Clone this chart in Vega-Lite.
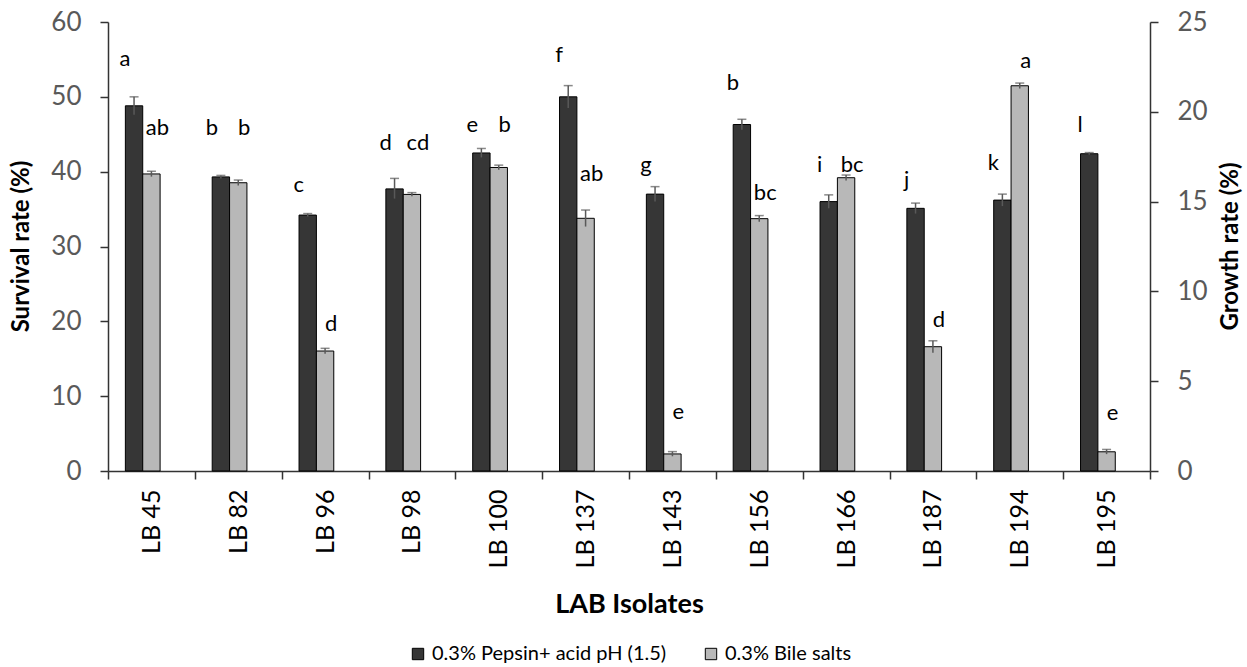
{
  "$schema": "https://vega.github.io/schema/vega-lite/v6.json",
  "width": 1042,
  "height": 449,
  "autosize": {"type": "none"},
  "padding": {"left": 108, "top": 22, "right": 97, "bottom": 196},
  "background": "white",
  "config": {
    "font": "Lato",
    "view": {"stroke": null},
    "axis": {"grid": false}
  },
  "data": {
    "values": [
      {"isolate": "LB 45", "series": "0.3% Pepsin+ acid pH (1.5)", "value": 48.8, "lo": 47.6, "hi": 50.0, "letter": "a", "label_y": 55.1},
      {"isolate": "LB 82", "series": "0.3% Pepsin+ acid pH (1.5)", "value": 39.3, "lo": 39.1, "hi": 39.5, "letter": "b", "label_y": 45.8},
      {"isolate": "LB 96", "series": "0.3% Pepsin+ acid pH (1.5)", "value": 34.2, "lo": 34.0, "hi": 34.4, "letter": "c", "label_y": 38.2},
      {"isolate": "LB 98", "series": "0.3% Pepsin+ acid pH (1.5)", "value": 37.7, "lo": 36.4, "hi": 39.1, "letter": "d", "label_y": 43.8},
      {"isolate": "LB 100", "series": "0.3% Pepsin+ acid pH (1.5)", "value": 42.5, "lo": 41.9, "hi": 43.1, "letter": "e", "label_y": 46.2},
      {"isolate": "LB 137", "series": "0.3% Pepsin+ acid pH (1.5)", "value": 50.0, "lo": 48.5, "hi": 51.5, "letter": "f", "label_y": 55.6},
      {"isolate": "LB 143", "series": "0.3% Pepsin+ acid pH (1.5)", "value": 37.0, "lo": 36.0, "hi": 38.0, "letter": "g", "label_y": 40.9},
      {"isolate": "LB 156", "series": "0.3% Pepsin+ acid pH (1.5)", "value": 46.3, "lo": 45.6, "hi": 47.0, "letter": "b", "label_y": 51.8},
      {"isolate": "LB 166", "series": "0.3% Pepsin+ acid pH (1.5)", "value": 36.0, "lo": 35.1, "hi": 36.9, "letter": "i", "label_y": 40.9},
      {"isolate": "LB 187", "series": "0.3% Pepsin+ acid pH (1.5)", "value": 35.1, "lo": 34.4, "hi": 35.8, "letter": "j", "label_y": 38.9},
      {"isolate": "LB 194", "series": "0.3% Pepsin+ acid pH (1.5)", "value": 36.2, "lo": 35.4, "hi": 37.0, "letter": "k", "label_y": 41.2},
      {"isolate": "LB 195", "series": "0.3% Pepsin+ acid pH (1.5)", "value": 42.4, "lo": 42.25, "hi": 42.55, "letter": "l", "label_y": 46.2},
      {"isolate": "LB 45", "series": "0.3% Bile salts", "value": 16.54, "lo": 16.39, "hi": 16.69, "letter": "ab", "label_y": 19.08},
      {"isolate": "LB 82", "series": "0.3% Bile salts", "value": 16.05, "lo": 15.9, "hi": 16.2, "letter": "b", "label_y": 19.08},
      {"isolate": "LB 96", "series": "0.3% Bile salts", "value": 6.68, "lo": 6.53, "hi": 6.83, "letter": "d", "label_y": 8.2},
      {"isolate": "LB 98", "series": "0.3% Bile salts", "value": 15.4, "lo": 15.3, "hi": 15.5, "letter": "cd", "label_y": 18.25},
      {"isolate": "LB 100", "series": "0.3% Bile salts", "value": 16.9, "lo": 16.77, "hi": 17.03, "letter": "b", "label_y": 19.25},
      {"isolate": "LB 137", "series": "0.3% Bile salts", "value": 14.07, "lo": 13.61, "hi": 14.53, "letter": "ab", "label_y": 16.54},
      {"isolate": "LB 143", "series": "0.3% Bile salts", "value": 0.95, "lo": 0.82, "hi": 1.08, "letter": "e", "label_y": 3.29},
      {"isolate": "LB 156", "series": "0.3% Bile salts", "value": 14.05, "lo": 13.88, "hi": 14.22, "letter": "bc", "label_y": 15.46},
      {"isolate": "LB 166", "series": "0.3% Bile salts", "value": 16.33, "lo": 16.18, "hi": 16.48, "letter": "bc", "label_y": 17.04},
      {"isolate": "LB 187", "series": "0.3% Bile salts", "value": 6.92, "lo": 6.59, "hi": 7.25, "letter": "d", "label_y": 8.42},
      {"isolate": "LB 194", "series": "0.3% Bile salts", "value": 21.45, "lo": 21.3, "hi": 21.6, "letter": "a", "label_y": 22.83},
      {"isolate": "LB 195", "series": "0.3% Bile salts", "value": 1.07, "lo": 0.94, "hi": 1.2, "letter": "e", "label_y": 3.25}
    ]
  },
  "encoding": {
    "x": {
      "field": "isolate",
      "type": "nominal",
      "sort": null,
      "scale": {"paddingInner": 0, "paddingOuter": 0},
      "axis": {
        "title": "LAB Isolates",
        "titleFontSize": 27,
        "titleFontWeight": "bold",
        "titleColor": "black",
        "titlePadding": 24,
        "labelAngle": 270,
        "labelFontSize": 25,
        "labelColor": "black",
        "labelPadding": 10,
        "tickBand": "extent",
        "tickSize": 8,
        "tickColor": "#333333",
        "domainColor": "#333333",
        "domainWidth": 1.5,
        "tickWidth": 1.5
      }
    },
    "xOffset": {
      "field": "series",
      "type": "nominal",
      "scale": {"domain": ["0.3% Pepsin+ acid pH (1.5)", "0.3% Bile salts", "none"], "paddingInner": 0, "paddingOuter": 1.03}
    }
  },
  "layer": [
    {
      "transform": [{"filter": "datum.series === '0.3% Pepsin+ acid pH (1.5)'"}],
      "encoding": {
        "y": {
          "field": "value",
          "type": "quantitative",
          "title": "Survival rate (%)",
          "scale": {"domain": [0, 60], "nice": false, "zero": true},
          "axis": {
            "orient": "left",
            "values": [0, 10, 20, 30, 40, 50, 60],
            "labelFontSize": 26,
            "labelColor": "#595959",
            "labelPadding": 19,
            "tickSize": 8,
            "tickColor": "#333333",
            "tickWidth": 1.5,
            "domainColor": "#333333",
            "domainWidth": 1.5,
            "titleFontSize": 24,
            "titleFontWeight": "bold",
            "titleColor": "black",
            "titleX": -87,
            "titleY": 224,
            "titleAngle": 270,
            "titleAlign": "center",
            "titleBaseline": "middle"
          }
        }
      },
      "layer": [
        {
          "mark": {"type": "bar", "stroke": "black", "strokeWidth": 1},
          "encoding": {
            "color": {
              "field": "series",
              "type": "nominal",
              "scale": {"domain": ["0.3% Pepsin+ acid pH (1.5)", "0.3% Bile salts"], "range": ["#363636", "#b8b8b8"]},
              "legend": {
                "title": null,
                "orient": "none",
                "direction": "horizontal",
                "legendX": 300,
                "legendY": 622,
                "symbolType": "square",
                "symbolSize": 130,
                "symbolStrokeColor": "black",
                "symbolStrokeWidth": 1,
                "labelFontSize": 20,
                "labelLimit": 0,
                "labelColor": "black",
                "labelOffset": 4,
                "columnPadding": 34
              }
            }
          }
        },
        {
          "mark": {"type": "rule", "color": "#595959", "strokeWidth": 1.5},
          "encoding": {
            "y": {"field": "lo", "type": "quantitative", "title": "Survival rate (%)"},
            "y2": {"field": "hi"}
          }
        },
        {
          "mark": {"type": "tick", "color": "#595959", "thickness": 1.5, "size": 9, "orient": "horizontal"},
          "encoding": {
            "y": {"field": "hi", "type": "quantitative", "title": "Survival rate (%)"}
          }
        },
        {
          "mark": {"type": "text", "fontSize": 22, "color": "black", "dx": -9, "baseline": "middle"},
          "encoding": {
            "y": {"field": "label_y", "type": "quantitative", "title": "Survival rate (%)"},
            "text": {"field": "letter"}
          }
        }
      ]
    },
    {
      "transform": [{"filter": "datum.series === '0.3% Bile salts'"}],
      "encoding": {
        "y": {
          "field": "value",
          "type": "quantitative",
          "title": "Growth rate (%)",
          "scale": {"domain": [0, 25], "nice": false, "zero": true},
          "axis": {
            "orient": "right",
            "values": [0, 5, 10, 15, 20, 25],
            "labelFontSize": 26,
            "labelColor": "#595959",
            "labelPadding": 19,
            "tickSize": 8,
            "tickColor": "#333333",
            "tickWidth": 1.5,
            "domainColor": "#333333",
            "domainWidth": 1.5,
            "titleFontSize": 24,
            "titleFontWeight": "bold",
            "titleColor": "black",
            "titleX": 80,
            "titleY": 224,
            "titleAngle": 270,
            "titleAlign": "center",
            "titleBaseline": "middle"
          }
        }
      },
      "layer": [
        {
          "mark": {"type": "bar", "stroke": "black", "strokeWidth": 1},
          "encoding": {
            "color": {"field": "series", "type": "nominal"}
          }
        },
        {
          "mark": {"type": "rule", "color": "#595959", "strokeWidth": 1.5},
          "encoding": {
            "y": {"field": "lo", "type": "quantitative", "title": "Growth rate (%)"},
            "y2": {"field": "hi"}
          }
        },
        {
          "mark": {"type": "tick", "color": "#595959", "thickness": 1.5, "size": 9, "orient": "horizontal"},
          "encoding": {
            "y": {"field": "hi", "type": "quantitative", "title": "Growth rate (%)"}
          }
        },
        {
          "mark": {"type": "text", "fontSize": 22, "color": "black", "dx": 6, "baseline": "middle"},
          "encoding": {
            "y": {"field": "label_y", "type": "quantitative", "title": "Growth rate (%)"},
            "text": {"field": "letter"}
          }
        }
      ]
    }
  ],
  "resolve": {"scale": {"y": "independent"}}
}
